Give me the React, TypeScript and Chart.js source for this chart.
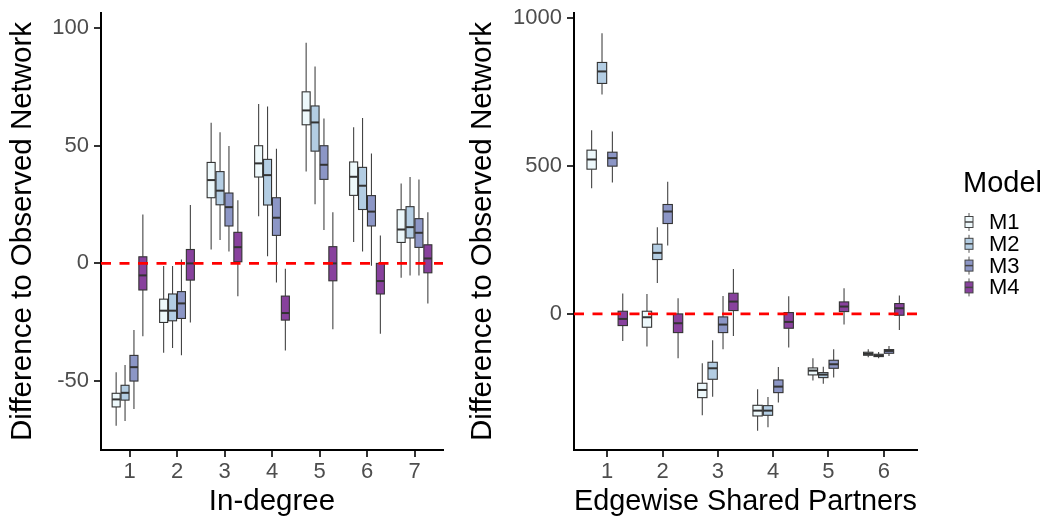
import React, { useEffect, useRef } from "react";
import { Chart, registerables } from "chart.js";

Chart.register(...registerables);

const FONT = '"Liberation Sans", Arial, Helvetica, sans-serif';

const models = ["M1", "M2", "M3", "M4"];
const modelColors = ["#EDF8FB", "#B3CDE3", "#8C96C6", "#88419D"];

// ---- Panel 1: In-degree ----  each entry: [min, q1, median, q3, max]
const inDegreeCategories = [1, 2, 3, 4, 5, 6, 7];
const inDegreeXLabels = ["1", "2", "3", "4", "5", "6", "7"];
const inDegreeYTicks = [-50, 0, 50, 100];
const inDegreeYLabels = ["-50", "0", "50", "100"];
const inDegreeM1 = [
  [-69.0, -61.0, -57.8, -55.2, -46.3],
  [-38.0, -25.1, -20.1, -15.2, -1.1],
  [5.9, 27.9, 35.4, 42.9, 59.8],
  [20.0, 36.7, 42.5, 50.0, 67.7],
  [39.0, 58.9, 65.0, 72.9, 93.8],
  [9.1, 28.9, 36.8, 43.1, 57.8],
  [-6.1, 8.9, 14.4, 22.8, 33.9],
];
const inDegreeM2 = [
  [-67.0, -58.1, -55.0, -51.8, -43.2],
  [-36.0, -24.4, -20.1, -13.0, -1.1],
  [9.9, 24.9, 30.9, 39.0, 55.7],
  [3.0, 24.8, 37.5, 44.2, 66.7],
  [25.1, 47.7, 59.9, 66.9, 83.7],
  [5.0, 22.9, 33.0, 40.8, 61.8],
  [-5.1, 10.8, 15.4, 24.1, 36.7],
];
const inDegreeM3 = [
  [-61.9, -50.0, -44.1, -39.1, -28.3],
  [-39.0, -23.4, -17.0, -12.0, 1.7],
  [5.0, 15.9, 23.9, 29.9, 49.9],
  [-8.1, 11.9, 19.4, 27.9, 48.7],
  [14.2, 35.7, 41.9, 50.0, 61.6],
  [-1.0, 15.9, 22.0, 28.8, 46.7],
  [-5.1, 6.8, 13.0, 19.0, 35.7],
];
const inDegreeM4 = [
  [-31.0, -11.3, -5.1, 2.8, 20.8],
  [-25.1, -7.1, 0.0, 5.9, 24.8],
  [-14.0, 0.7, 6.9, 13.2, 26.8],
  [-37.0, -24.1, -21.1, -13.9, -2.3],
  [-28.0, -7.4, 0.0, 7.1, 21.7],
  [-29.9, -13.0, -7.5, 0.0, 11.8],
  [-17.0, -4.0, 2.1, 7.9, 21.7],
];

// ---- Panel 2: Edgewise Shared Partners ----
const espCategories = [1, 2, 3, 4, 5, 6];
const espXLabels = ["1", "2", "3", "4", "5", "6"];
const espYTicks = [0, 500, 1000];
const espYLabels = ["0", "500", "1000"];
const espM1 = [
  [424.5, 488.7, 521.4, 552.9, 620.5],
  [-110.4, -45.0, -11.3, 9.0, 67.6],
  [-342.3, -282.7, -256.8, -234.2, -166.7],
  [-394.1, -344.6, -326.6, -308.6, -254.5],
  [-225.2, -206.0, -191.4, -182.4, -149.8],
  [-146.4, -139.6, -135.1, -129.5, -119.4],
];
const espM2 = [
  [741.0, 778.2, 818.7, 849.0, 948.0],
  [104.7, 183.6, 206.1, 235.4, 292.8],
  [-279.3, -220.7, -183.6, -163.3, -89.0],
  [-382.9, -342.3, -326.6, -309.7, -280.4],
  [-235.4, -215.1, -205.0, -198.2, -178.0],
  [-149.8, -144.1, -140.8, -136.3, -128.4],
];
const espM3 = [
  [443.7, 498.9, 526.0, 546.0, 616.0],
  [230.9, 305.2, 345.7, 369.4, 446.0],
  [-119.4, -63.1, -36.0, -10.1, 60.8],
  [-299.5, -265.8, -245.5, -223.0, -179.0],
  [-215.1, -183.6, -170.0, -156.5, -119.4],
  [-141.9, -132.9, -125.0, -120.5, -108.1],
];
const espM4 = [
  [-91.2, -39.4, -16.9, 9.0, 68.7],
  [-149.8, -63.1, -31.5, 0.0, 52.9],
  [-74.3, 11.3, 41.7, 69.8, 152.0],
  [-113.7, -48.4, -27.0, 4.5, 59.7],
  [-36.0, 7.9, 24.8, 40.5, 86.7],
  [-54.0, -4.5, 19.1, 34.9, 61.9],
];

const yTitle = "Difference to Observed Network";
const legendTitle = "Model";

// dodge geometry (in x-axis units)
const DODGE = 0.75;
const SLOT = DODGE / models.length;
const BOX_W = SLOT * 0.9;

type PanelSpec = {
  categories: number[];
  xLabels: string[];
  yTicks: number[];
  yLabels: string[];
  series: number[][][];
  xTitle: string;
  xMin: number;
  xMax: number;
  yMin: number;
  yMax: number;
  yWidth: number;
  padRight: number;
  legend: boolean;
  legendX: number;
};

function makeBoxPlugin(spec: PanelSpec) {
  return {
    id: "boxplots",
    beforeDatasetsDraw(chart: any) {
      const { ctx, chartArea } = chart;
      const x = chart.scales.x;
      const y = chart.scales.y;
      ctx.save();
      ctx.beginPath();
      ctx.rect(chartArea.left, chartArea.top, chartArea.right - chartArea.left, chartArea.bottom - chartArea.top);
      ctx.clip();
      spec.categories.forEach((cat, gi) => {
        spec.series.forEach((s, mi) => {
          const [mn, q1, md, q3, mx] = s[gi];
          const off = (mi - (models.length - 1) / 2) * SLOT;
          const cx = x.getPixelForValue(cat + off);
          const l = x.getPixelForValue(cat + off - BOX_W / 2);
          const r = x.getPixelForValue(cat + off + BOX_W / 2);
          const pMin = y.getPixelForValue(mn);
          const pQ1 = y.getPixelForValue(q1);
          const pMd = y.getPixelForValue(md);
          const pQ3 = y.getPixelForValue(q3);
          const pMax = y.getPixelForValue(mx);
          // whiskers
          ctx.strokeStyle = "#444444";
          ctx.lineWidth = 1.1;
          ctx.beginPath();
          ctx.moveTo(cx, pQ3);
          ctx.lineTo(cx, pMax);
          ctx.moveTo(cx, pQ1);
          ctx.lineTo(cx, pMin);
          ctx.stroke();
          // box
          ctx.fillStyle = modelColors[mi];
          ctx.fillRect(l, pQ3, r - l, pQ1 - pQ3);
          ctx.strokeStyle = "#333333";
          ctx.lineWidth = 1.1;
          ctx.strokeRect(l, pQ3, r - l, pQ1 - pQ3);
          // median
          ctx.lineWidth = 2;
          ctx.beginPath();
          ctx.moveTo(l, pMd);
          ctx.lineTo(r, pMd);
          ctx.stroke();
        });
      });
      // reference line at 0
      const y0 = y.getPixelForValue(0);
      ctx.strokeStyle = "#FF0000";
      ctx.lineWidth = 2.6;
      ctx.setLineDash([10, 8.5]);
      ctx.beginPath();
      ctx.moveTo(chartArea.left, y0);
      ctx.lineTo(chartArea.right, y0);
      ctx.stroke();
      ctx.restore();
    },
    afterDraw(chart: any) {
      if (!spec.legend) return;
      const { ctx } = chart;
      const lx = spec.legendX;
      ctx.save();
      ctx.fillStyle = "#000000";
      ctx.font = `29px ${FONT}`;
      ctx.textAlign = "left";
      ctx.textBaseline = "alphabetic";
      ctx.fillText(legendTitle, lx, 192);
      ctx.font = `22px ${FONT}`;
      ctx.textBaseline = "middle";
      models.forEach((m, i) => {
        const cy = 222 + i * 21.8;
        const kx = lx + 2;
        // key: whisker + box + median
        ctx.strokeStyle = "#555555";
        ctx.lineWidth = 1;
        ctx.beginPath();
        ctx.moveTo(kx + 4, cy - 9);
        ctx.lineTo(kx + 4, cy + 9);
        ctx.stroke();
        ctx.fillStyle = modelColors[i];
        ctx.fillRect(kx, cy - 5.5, 8, 11);
        ctx.strokeStyle = "#444444";
        ctx.strokeRect(kx, cy - 5.5, 8, 11);
        ctx.lineWidth = 1.5;
        ctx.beginPath();
        ctx.moveTo(kx, cy);
        ctx.lineTo(kx + 8, cy);
        ctx.stroke();
        ctx.fillStyle = "#000000";
        ctx.fillText(m, lx + 26, cy + 1);
      });
      ctx.restore();
    },
  };
}

function makeConfig(spec: PanelSpec): any {
  return {
    type: "scatter",
    data: { datasets: [] },
    plugins: [makeBoxPlugin(spec)],
    options: {
      animation: false,
      responsive: false,
      devicePixelRatio: 1,
      layout: { padding: { left: 0, top: 13, right: spec.padRight, bottom: 0 } },
      plugins: { legend: { display: false }, tooltip: { enabled: false } },
      scales: {
        x: {
          type: "linear",
          position: "bottom",
          min: spec.xMin,
          max: spec.xMax,
          afterBuildTicks: (scale: any) => {
            scale.ticks = spec.categories.map((v) => ({ value: v }));
          },
          afterFit: (scale: any) => {
            scale.height = 70;
            scale.paddingLeft = 0;
            scale.paddingRight = 0;
          },
          ticks: {
            autoSkip: false,
            maxRotation: 0,
            padding: 2,
            color: "#4D4D4D",
            font: { family: FONT, size: 22 },
            callback: (_v: any, i: number) => spec.xLabels[i],
          },
          grid: {
            display: true,
            drawOnChartArea: false,
            drawTicks: true,
            tickLength: 7,
            color: "#333333",
            lineWidth: 2,
          },
          border: { display: true, color: "#000000", width: 2 },
          title: {
            display: true,
            text: spec.xTitle,
            color: "#000000",
            font: { family: FONT, size: 29.5 },
            padding: { top: 0, bottom: 0 },
          },
        },
        y: {
          type: "linear",
          position: "left",
          min: spec.yMin,
          max: spec.yMax,
          afterBuildTicks: (scale: any) => {
            scale.ticks = spec.yTicks.map((v) => ({ value: v }));
          },
          afterFit: (scale: any) => {
            scale.width = spec.yWidth;
            scale.paddingTop = 0;
            scale.paddingBottom = 0;
          },
          ticks: {
            padding: 5,
            color: "#4D4D4D",
            font: { family: FONT, size: 22 },
            callback: (_v: any, i: number) => spec.yLabels[i],
          },
          grid: {
            display: true,
            drawOnChartArea: false,
            drawTicks: true,
            tickLength: 7,
            color: "#333333",
            lineWidth: 2,
          },
          border: { display: true, color: "#000000", width: 2 },
          title: {
            display: true,
            text: yTitle,
            color: "#000000",
            font: { family: FONT, size: 29.5 },
            padding: { top: 5, bottom: 0 },
          },
        },
      },
    },
  };
}

const leftSpec: PanelSpec = {
  categories: inDegreeCategories,
  xLabels: inDegreeXLabels,
  yTicks: inDegreeYTicks,
  yLabels: inDegreeYLabels,
  series: [inDegreeM1, inDegreeM2, inDegreeM3, inDegreeM4],
  xTitle: "In-degree",
  xMin: 0.4,
  xMax: 7.6,
  yMin: -79.3,
  yMax: 106.4,
  yWidth: 101,
  padRight: 17,
  legend: false,
  legendX: 0,
};

const rightSpec: PanelSpec = {
  categories: espCategories,
  xLabels: espXLabels,
  yTicks: espYTicks,
  yLabels: espYLabels,
  series: [espM1, espM2, espM3, espM4],
  xTitle: "Edgewise Shared Partners",
  xMin: 0.4,
  xMax: 6.6,
  yMin: -459.5,
  yMax: 1016,
  yWidth: 114,
  padRight: 126,
  legend: true,
  legendX: 963 - 460,
};

export default function App() {
  const leftRef = useRef<HTMLCanvasElement | null>(null);
  const rightRef = useRef<HTMLCanvasElement | null>(null);

  useEffect(() => {
    document.body.style.margin = "0";
    const c1 = new Chart(leftRef.current as HTMLCanvasElement, makeConfig(leftSpec));
    const c2 = new Chart(rightRef.current as HTMLCanvasElement, makeConfig(rightSpec));
    return () => {
      c1.destroy();
      c2.destroy();
    };
  }, []);

  return (
    <div style={{ position: "relative", width: 1043, height: 520, background: "#ffffff" }}>
      <canvas
        ref={leftRef}
        width={460}
        height={520}
        style={{ position: "absolute", left: 0, top: 0, width: 460, height: 520 }}
      />
      <canvas
        ref={rightRef}
        width={583}
        height={520}
        style={{ position: "absolute", left: 460, top: 0, width: 583, height: 520 }}
      />
    </div>
  );
}
